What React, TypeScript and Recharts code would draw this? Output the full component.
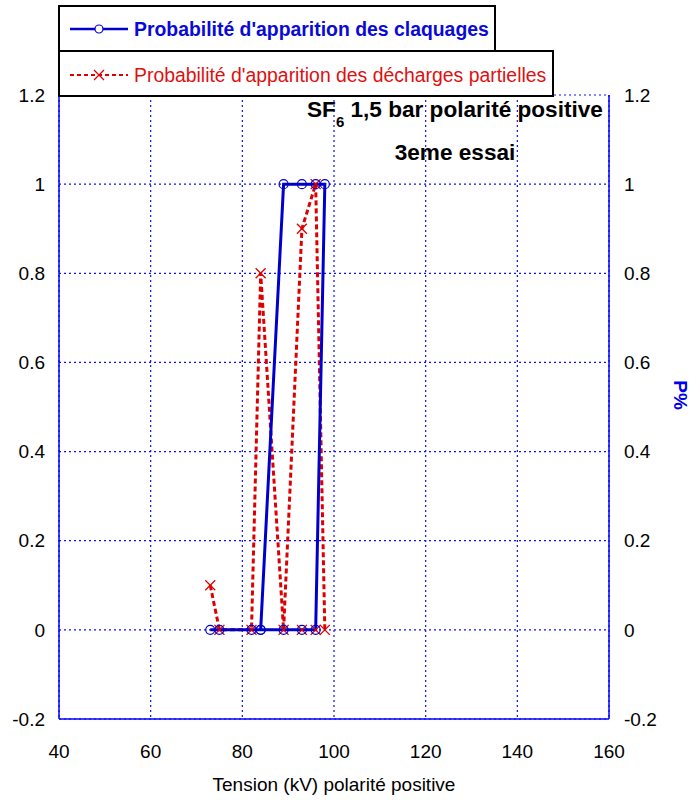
import React from 'react';
import { ComposedChart, Line, XAxis, YAxis, CartesianGrid } from 'recharts';

// Blue series: breakdown probability (path as drawn in the reference)
const claquagesX = [73, 75, 82, 84, 89, 93, 96, 98, 96, 93, 89, 84];
const claquagesY = [0, 0, 0, 0, 1, 1, 1, 1, 0, 0, 0, 0];
// Red series: partial discharge probability
const dechargesX = [73, 75, 82, 84, 89, 93, 96, 98];
const dechargesY = [0.1, 0, 0, 0.8, 0, 0.9, 1, 0];
// Extra red markers without connecting line
const dechargesExtraX = [93, 96];
const dechargesExtraY = [0, 0];

const xTicks = [40, 60, 80, 100, 120, 140, 160];
const yTicks = [-0.2, 0, 0.2, 0.4, 0.6, 0.8, 1, 1.2];

const legendBlue = "Probabilité d'apparition des claquages";
const legendRed = "Probabilité d'apparition des décharges partielles";
const xLabel = 'Tension (kV) polarité positive';
const yLabel = 'P%';

const zip = (xs: number[], ys: number[]) => xs.map((x, i) => ({ x, y: ys[i] }));
const blueData = zip(claquagesX, claquagesY);
const redData = zip(dechargesX, dechargesY);
const redExtra = zip(dechargesExtraX, dechargesExtraY);

const BLUE = '#0000cc';
const RED = '#dd0000';
const FONT = '"Liberation Sans", Arial, sans-serif';

const CircleDot = (props: any) => {
  const { cx, cy } = props;
  if (cx == null || cy == null) return null;
  return <circle cx={cx} cy={cy} r={4.5} fill="none" stroke={BLUE} strokeWidth={1.2} />;
};

const CrossDot = (props: any) => {
  const { cx, cy } = props;
  if (cx == null || cy == null) return null;
  const s = 5;
  return (
    <g stroke={RED} strokeWidth={1.3}>
      <line x1={cx - s} y1={cy - s} x2={cx + s} y2={cy + s} />
      <line x1={cx - s} y1={cy + s} x2={cx + s} y2={cy - s} />
    </g>
  );
};

const fmt = (v: number) => String(Math.round(v * 10) / 10);

export default function App() {
  const tickStyle = { fill: '#000', fontSize: 19, fontFamily: FONT };
  return (
    <div style={{ position: 'absolute', left: 0, top: 0, width: 696, height: 800, background: '#fff' }}>
      <ComposedChart width={696} height={800} margin={{ top: 95, right: 0, bottom: 0, left: 0 }}>
        <CartesianGrid xAxisId="b" yAxisId="l" stroke="#1010f0" strokeWidth={1.2} strokeDasharray="2 3" />
        <XAxis
          xAxisId="b"
          type="number"
          dataKey="x"
          domain={[40, 160]}
          ticks={xTicks}
          allowDataOverflow
          height={81}
          tickSize={0}
          tickMargin={26}
          tickLine={false}
          axisLine={{ stroke: '#0000ff', strokeWidth: 1.5 }}
          tick={tickStyle}
        />
        <XAxis
          xAxisId="t"
          orientation="top"
          type="number"
          dataKey="x"
          domain={[40, 160]}
          ticks={xTicks}
          height={0}
          tick={false}
          tickLine={false}
          axisLine={{ stroke: '#0000ff', strokeWidth: 1.5 }}
        />
        <YAxis
          yAxisId="l"
          type="number"
          domain={[-0.2, 1.2]}
          ticks={yTicks}
          allowDataOverflow
          width={59}
          tickSize={0}
          tickMargin={14}
          tickLine={false}
          tickFormatter={fmt}
          axisLine={{ stroke: '#0000ff', strokeWidth: 1.5 }}
          tick={tickStyle}
        />
        <YAxis
          yAxisId="r"
          orientation="right"
          type="number"
          domain={[-0.2, 1.2]}
          ticks={yTicks}
          allowDataOverflow
          width={87}
          tickSize={0}
          tickMargin={15}
          tickLine={false}
          tickFormatter={fmt}
          axisLine={{ stroke: '#0000ff', strokeWidth: 1.5 }}
          tick={{ ...tickStyle, textAnchor: 'start' }}
        />
        <Line
          xAxisId="b"
          yAxisId="l"
          data={redData}
          dataKey="y"
          type="linear"
          stroke={RED}
          strokeWidth={3}
          strokeDasharray="5 3"
          dot={<CrossDot />}
          activeDot={false}
          isAnimationActive={false}
        />
        <Line
          xAxisId="b"
          yAxisId="l"
          data={redExtra}
          dataKey="y"
          type="linear"
          stroke="none"
          dot={<CrossDot />}
          activeDot={false}
          isAnimationActive={false}
        />
        <Line
          xAxisId="b"
          yAxisId="l"
          data={blueData}
          dataKey="y"
          type="linear"
          stroke={BLUE}
          strokeWidth={3}
          dot={<CircleDot />}
          activeDot={false}
          isAnimationActive={false}
        />
      </ComposedChart>
      <svg
        width={696}
        height={800}
        style={{ position: 'absolute', left: 0, top: 0, pointerEvents: 'none' }}
        fontFamily={FONT}
      >
        {/* Legend boxes */}
        <rect x={59} y={6} width={436} height={45} fill="#fff" stroke="#000" strokeWidth={2} />
        <rect x={59} y={51} width={494} height={45} fill="#fff" stroke="#000" strokeWidth={2} />
        <line x1={70} y1={29} x2={128} y2={29} stroke={BLUE} strokeWidth={2.5} />
        <circle cx={99} cy={29} r={4} fill="#fff" stroke={BLUE} strokeWidth={1.2} />
        <text x={134} y={36} fontSize={19.4} fontWeight="bold" fill="#0a0ad8">{legendBlue}</text>
        <line x1={70} y1={75} x2={128} y2={75} stroke={RED} strokeWidth={2} strokeDasharray="4 3" />
        <line x1={94} y1={70} x2={104} y2={80} stroke={RED} strokeWidth={1.2} />
        <line x1={94} y1={80} x2={104} y2={70} stroke={RED} strokeWidth={1.2} />
        <text x={134} y={82} fontSize={19.4} fill="#e01010">{legendRed}</text>
        {/* Annotations */}
        <text x={307} y={117} fontSize={22.6} fontWeight="bold" fill="#000">
          SF
          <tspan fontSize={15} dy={10}>6</tspan>
          <tspan dy={-10}> 1,5 bar polarité positive</tspan>
        </text>
        <text x={455} y={160} fontSize={22.6} fontWeight="bold" fill="#000" textAnchor="middle">3eme essai</text>
        {/* Axis titles */}
        <text x={334} y={791} fontSize={19} fill="#000" textAnchor="middle">{xLabel}</text>
        <text
          x={680}
          y={395}
          fontSize={19}
          fontWeight="bold"
          fill="#0000ee"
          textAnchor="middle"
          transform="rotate(90 680 395)"
          dominantBaseline="central"
        >
          {yLabel}
        </text>
      </svg>
    </div>
  );
}
